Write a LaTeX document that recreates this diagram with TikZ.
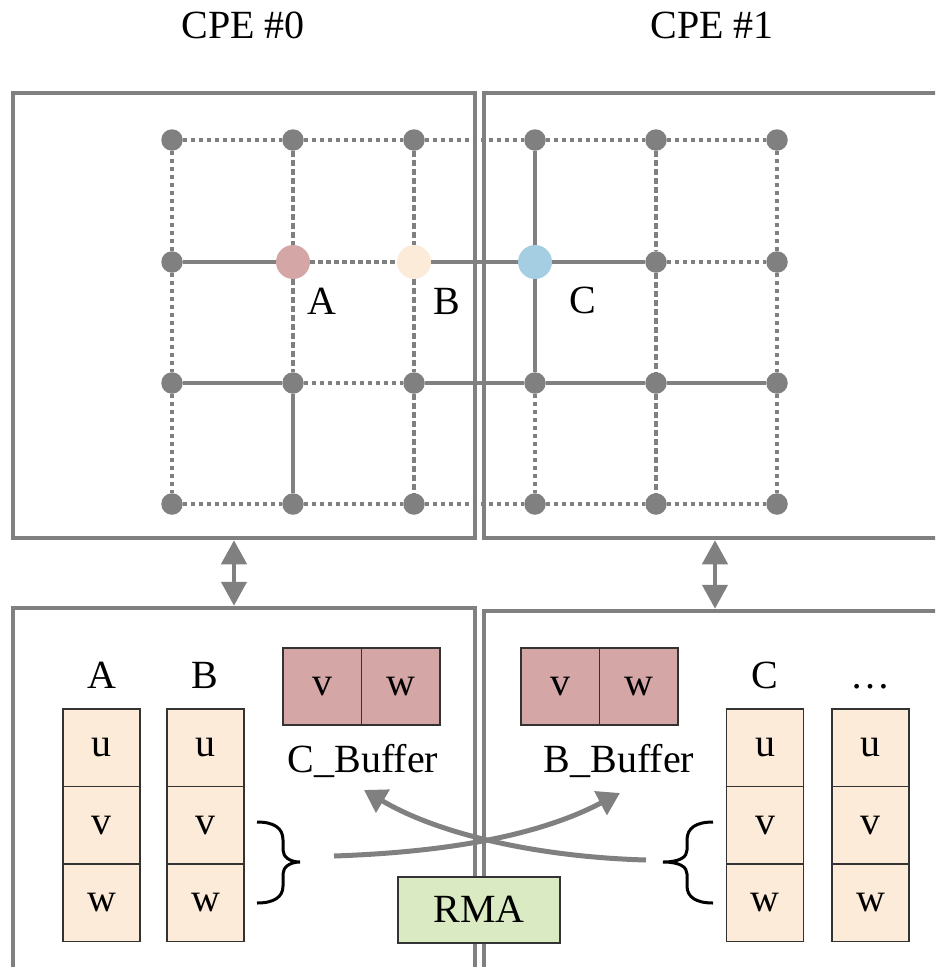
\documentclass[tikz,border=0pt]{standalone}
\usepackage{fontspec}
\setmainfont{Liberation Serif}
\usetikzlibrary{arrows.meta}

\definecolor{meshgray}{HTML}{808080}
\definecolor{rowA}{HTML}{D5A6A6}
\definecolor{rowB}{HTML}{FDEBD9}
\definecolor{rowC}{HTML}{A6CEE3}
\definecolor{rmagreen}{HTML}{DAEBC3}
\definecolor{cellline}{HTML}{333333}

\newcommand{\figfont}{\fontsize{40}{48}\selectfont}

\tikzset{
  frame/.style={draw=meshgray, line width=4.5pt, rectangle, inner sep=0pt, outer sep=2.25pt},
  gdot/.style={circle, fill=meshgray, minimum size=21.5pt, inner sep=0pt, outer sep=0pt},
  vdot/.style={circle, minimum size=34pt, inner sep=0pt, outer sep=0pt},
  solidlink/.style={draw=meshgray, line width=4.5pt},
  dotlink/.style={draw=meshgray, line width=4.5pt, dash pattern=on 4.5pt off 3.5pt},
  dashlink/.style={draw=meshgray, line width=4.5pt, dash pattern=on 6pt off 3pt},
  cell/.style={rectangle, draw=cellline, line width=1.2pt, fill=rowB,
    minimum width=77pt, minimum height=77.5pt, inner sep=0pt, font=\figfont},
  bufcell/.style={rectangle, draw=cellline, line width=1.2pt, fill=rowA,
    minimum width=78.5pt, minimum height=77pt, inner sep=0pt, font=\figfont},
  label/.style={anchor=base, inner sep=0pt, font=\figfont},
  syncarrow/.style={meshgray, line width=4.5pt, {Triangle[length=24pt,width=25pt]}-{Triangle[length=24pt,width=25pt]}},
  rmaarrow/.style={meshgray, line width=5pt, -{Triangle[length=22pt,width=26pt]}},
  brace/.style={draw=black, line width=3pt},
}

\begin{document}
\begin{tikzpicture}[x=1pt, y=-1pt]
\useasboundingbox (0,0) rectangle (935,967);
\clip (0,0) rectangle (935,967);

% processor titles
\node[label] (cpe0) at (243,38) {CPE \#0};
\node[label] (cpe1) at (712,38) {CPE \#1};

% mesh frames (top) and local memory frames (bottom)
\node[frame, minimum width=462pt, minimum height=445pt] (mesh0) at (244,315.5) {};
\node[frame, minimum width=456pt, minimum height=445pt] (mesh1) at (712,315.5) {};
\node[frame, minimum width=462pt, minimum height=361pt] (mem0) at (244,788.5) {};
\node[frame, minimum width=456pt, minimum height=358pt] (mem1) at (712,790) {};

% mesh vertices
\foreach \r/\y in {0/140,2/383,3/504}
  \foreach \c/\x in {0/172,1/293,2/414,3/535,4/656,5/777}
    \node[gdot] (g\r\c) at (\x,\y) {};
\node[gdot] (g10) at (172,262) {};
\node[vdot, fill=rowA] (g11) at (293,262) {};
\node[vdot, fill=rowB] (g12) at (414,262) {};
\node[vdot, fill=rowC] (g13) at (535,262) {};
\node[gdot] (g14) at (656,262) {};
\node[gdot] (g15) at (777,262) {};

% horizontal edges
\foreach \c [evaluate=\c as \n using int(\c+1)] in {0,...,4} {
  \draw[dotlink] (g0\c) -- (g0\n);
  \draw[dotlink] (g3\c) -- (g3\n);
}
\draw[solidlink] (g10) -- (g11);
\draw[dotlink]   (g11) -- (g12);
\draw[solidlink] (g12) -- (g13);
\draw[solidlink] (g13) -- (g14);
\draw[dotlink]   (g14) -- (g15);
\draw[solidlink] (g20) -- (g21);
\draw[dotlink]   (g21) -- (g22);
\draw[solidlink] (g22) -- (g23);
\draw[solidlink] (g23) -- (g24);
\draw[solidlink] (g24) -- (g25);

% vertical edges
\foreach \c in {0,5} {
  \draw[dotlink] (g0\c) -- (g1\c);
  \draw[dotlink] (g1\c) -- (g2\c);
  \draw[dotlink] (g2\c) -- (g3\c);
}
\foreach \c in {2,4} {
  \draw[dashlink] (g0\c) -- (g1\c);
  \draw[dashlink] (g1\c) -- (g2\c);
  \draw[dashlink] (g2\c) -- (g3\c);
}
\draw[dashlink]  (g01) -- (g11);
\draw[dashlink]  (g11) -- (g21);
\draw[solidlink] (g21) -- (g31);
\draw[solidlink] (g03) -- (g13);
\draw[solidlink] (g13) -- (g23);
\draw[dotlink]   (g23) -- (g33);

% vertex labels
\node[label] (labA) at (322,314) {A};
\node[label] (labB) at (447,314) {B};
\node[label] (labC) at (583,313) {C};

% mesh <-> memory
\coordinate (s0) at (234,0);
\coordinate (s1) at (715,0);
\draw[syncarrow] (mesh0.south -| s0) -- (mem0.north -| s0);
\draw[syncarrow] (mesh1.south -| s1) -- (mem1.north -| s1);

% vertex arrays in local memory
\node[label] (hA) at (102,688) {A};
\node[label] (hB) at (205,688) {B};
\node[label] (hC) at (765,688) {C};
\node[label] (hD) at (870,688) {…};
\foreach \k/\x in {a/101.5, b/205.5, c/765, d/870.5} {
  \node[cell] (\k u) at (\x,747.75) {u};
  \node[cell] (\k v) at (\x,825.25) {v};
  \node[cell] (\k w) at (\x,902.75) {w};
}

% receive buffers
\node[bufcell] (cbv) at (322.25,686.5) {v};
\node[bufcell] (cbw) at (400.75,686.5) {w};
\node[bufcell] (bbv) at (560.25,686.5) {v};
\node[bufcell] (bbw) at (638.75,686.5) {w};
\node[label] (cbuf) at (363,772) {C\_Buffer};
\node[label] (bbuf) at (619,772) {B\_Buffer};

% braces around the v,w rows
\draw[brace] (257,822) .. controls (274,822) and (283,828) .. (283,840)
  -- (283,850) .. controls (283,857) and (290,862) .. (300,862)
  .. controls (290,862) and (283,867) .. (283,874)
  -- (283,886) .. controls (283,897) and (274,903) .. (257,903);
\draw[brace] (713,822) .. controls (696,822) and (687,828) .. (687,840)
  -- (687,850) .. controls (687,857) and (680,862) .. (663,862)
  .. controls (680,862) and (687,867) .. (687,874)
  -- (687,886) .. controls (687,897) and (696,903) .. (713,903);

% RMA transfers
\node[rectangle, draw=cellline, line width=1.3pt, fill=rmagreen,
  minimum width=162pt, minimum height=66pt, inner sep=0pt] (rma) at (479,910) {};
\node[label] (rmatext) at (479,922) {RMA};
\coordinate (fromB) at (334,856);
\coordinate (toBbuf) at (620,793);
\coordinate (fromC) at (646,860);
\coordinate (toCbuf) at (364,790);
\draw[rmaarrow] (fromB) .. controls (450,852) and (540,835) .. (toBbuf);
\draw[rmaarrow] (fromC) .. controls (540,857) and (440,835) .. (toCbuf);
\end{tikzpicture}
\end{document}
